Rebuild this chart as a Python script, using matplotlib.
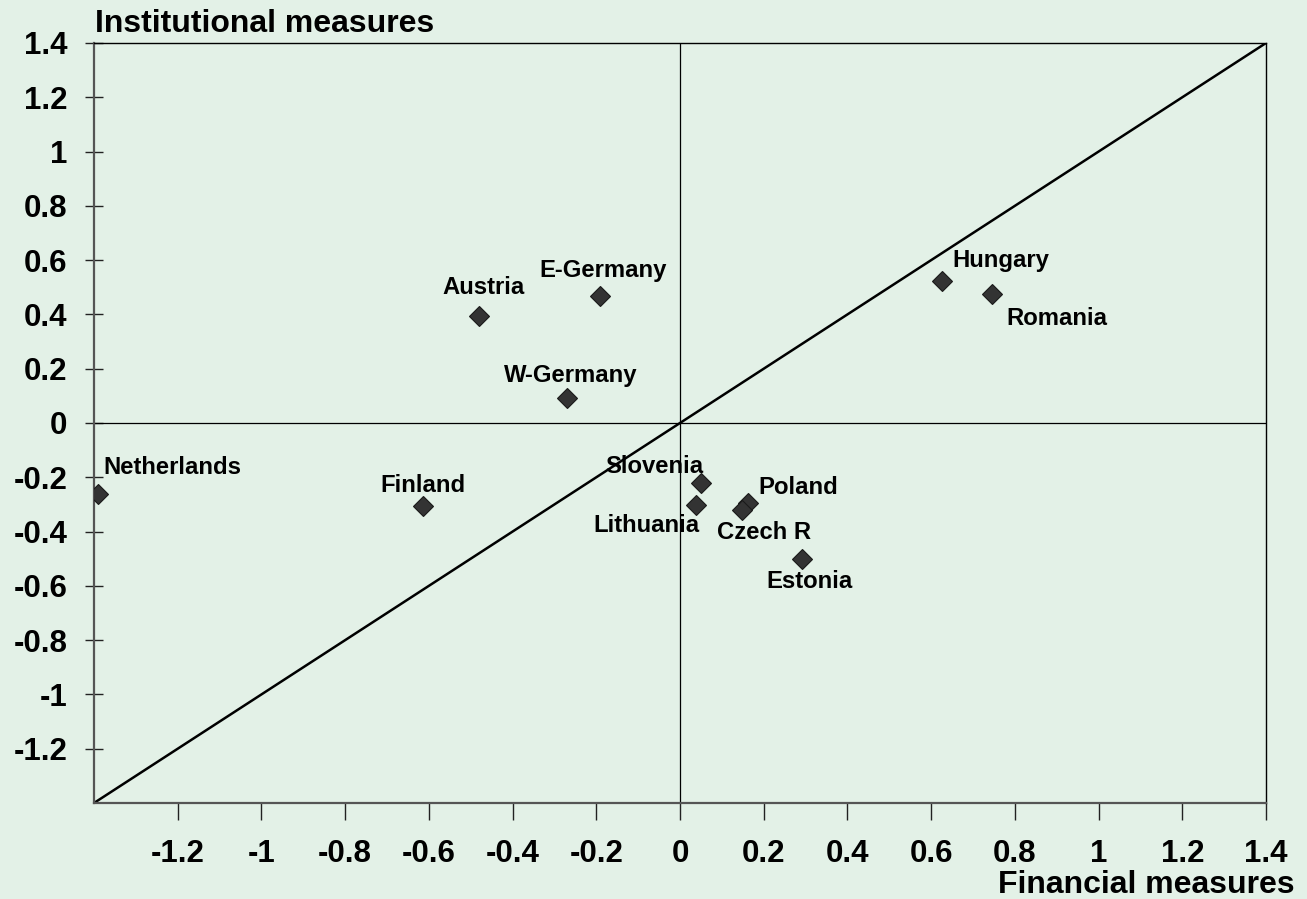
import numpy as np
import matplotlib.pyplot as plt
from matplotlib.ticker import FuncFormatter

# ----------------------------------------------------------------------
# Data
# ----------------------------------------------------------------------

countries = ["Austria", "E-Germany", "W-Germany", "Netherlands", "Finland",
             "Slovenia", "Lithuania", "Poland", "Czech R", "Estonia",
             "Hungary", "Romania"]
financial = [-0.48, -0.19, -0.27, -1.39, -0.615,
             0.049, 0.038, 0.163, 0.149, 0.292,
             0.627, 0.746]
institutional = [0.395, 0.469, 0.091, -0.262, -0.305,
                 -0.220, -0.301, -0.296, -0.321, -0.501,
                 0.524, 0.476]

ticks = [-1.2, -1.0, -0.8, -0.6, -0.4, -0.2, 0.0, 0.2, 0.4, 0.6, 0.8, 1.0, 1.2, 1.4]

# label placement: (dx px, dy px, ha)
label_layout = {
    "Austria":     (4, 22, "center"),
    "E-Germany":   (3, 19, "center"),
    "W-Germany":   (4, 16, "center"),
    "Netherlands": (5, 20, "left"),
    "Finland":     (0, 14, "center"),
    "Slovenia":    (3, 10, "right"),
    "Lithuania":   (4, -27, "right"),
    "Poland":      (10, 9, "left"),
    "Czech R":     (22, -29, "center"),
    "Estonia":     (7, -29, "center"),
    "Hungary":     (10, 14, "left"),
    "Romania":     (14, -31, "left"),
}

BG = "#E3F1E7"
plt.rcParams['font.family'] = ['Liberation Sans', 'DejaVu Sans']
plt.rcParams['font.weight'] = 'bold'

fig = plt.figure(figsize=(13.07, 8.99), dpi=100, facecolor=BG)
ax = fig.add_axes([94 / 1307, 96 / 899, 1172 / 1307, 760 / 899])
ax.set_facecolor(BG)

ax.set_xlim(-1.4, 1.4)
ax.set_ylim(-1.4, 1.4)

# quadrant lines and diagonal
ax.axvline(0, color="black", lw=0.9)
ax.axhline(0, color="black", lw=0.9)
ax.plot([-1.4, 1.4], [-1.4, 1.4], color="black", lw=1.8, zorder=2)

ax.plot(financial, institutional, "D", ms=10, mfc="#333333", mec="#1a1a1a",
        mew=0.8, ls="none", zorder=3)

for name, x, y in zip(countries, financial, institutional):
    dx, dy, ha = label_layout[name]
    ax.annotate(name, (x, y), xytext=(dx, dy), textcoords="offset pixels",
                ha=ha, va="baseline", fontsize=17.2, fontweight="bold",
                zorder=4)

# spines
for side in ("left", "bottom"):
    ax.spines[side].set_color("#555555")
    ax.spines[side].set_linewidth(1.6)
for side in ("top", "right"):
    ax.spines[side].set_color("black")
    ax.spines[side].set_linewidth(1.0)

fmt = FuncFormatter(lambda v, _: f"{v:g}".replace("\u2212", "-"))
ax.set_xticks(ticks)
ax.set_yticks(ticks)
ax.xaxis.set_major_formatter(fmt)
ax.yaxis.set_major_formatter(fmt)
ax.tick_params(axis="x", direction="out", length=12, width=1, color="#222222",
               pad=14, labelsize=22.5)
ax.tick_params(axis="y", direction="inout", length=13, width=1, color="#222222",
               pad=12.5, labelsize=22.5)
for lbl in ax.get_xticklabels() + ax.get_yticklabels():
    lbl.set_fontweight("bold")

fig.text(95 / 1307, 1 - 32 / 899, "Institutional measures", fontsize=23,
         fontweight="bold", ha="left", va="baseline")
fig.text(1295 / 1307, 6 / 899, "Financial measures", fontsize=23,
         fontweight="bold", ha="right", va="baseline")

fig.savefig("out.png", dpi=100, facecolor=BG)
